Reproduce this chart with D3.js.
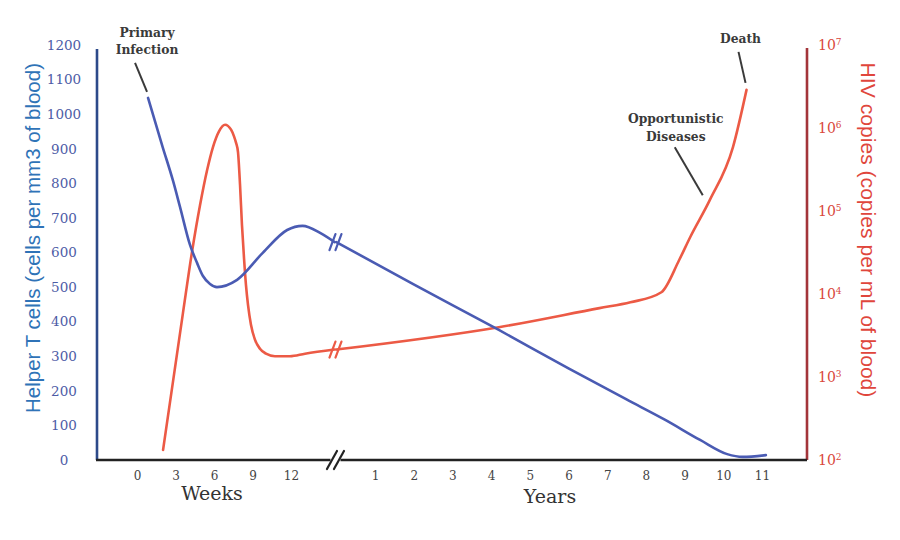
<!DOCTYPE html>
<html>
<head>
<meta charset="utf-8">
<script src="https://cdn.jsdelivr.net/npm/d3@7"></script>
<style>
  html, body { margin: 0; padding: 0; background: #ffffff; }
  svg { display: block; }
</style>
</head>
<body>
<svg id="chart" width="900" height="540"></svg>
<script>
// ---------------- DATA ----------------
const weekTicks = [0, 3, 6, 9, 12];
const yearTicks = [1, 2, 3, 4, 5, 6, 7, 8, 9, 10, 11];
const tcellTicks = [0, 100, 200, 300, 400, 500, 600, 700, 800, 900, 1000, 1100, 1200];
const hivExponents = [2, 3, 4, 5, 6, 7];

const breakWeek = 15.4;   // where the weeks segment ends
const breakYear = 0;      // where the years segment starts

// Helper T cells (cells per mm3) – weeks phase
const tcellWeeksX = [0.86, 2.0, 2.81, 3.35, 4.13, 4.68, 5.14, 5.69, 6.23, 7.8, 9.8, 11.7, 12.9, 14.3, 15.4];
const tcellWeeksY = [1047, 905, 807, 732, 622, 570, 532, 509, 500, 521, 599, 665, 677, 656, 630];
// Helper T cells – years phase
const tcellYearsX = [0, 2, 4.2, 6, 7.5, 8.5, 9.4, 10.1, 10.5, 11.1];
const tcellYearsY = [630, 508, 376, 265, 175, 116, 58, 17, 9, 14];

// HIV copies (copies per mL) – weeks phase
const hivWeeksX = [2.03, 3.58, 4.29, 4.91, 5.46, 5.92, 6.39, 6.86, 7.33, 7.56, 7.72, 7.87, 8.03, 8.18, 8.34, 8.49, 8.65, 8.88, 9.19, 9.58, 10.05, 10.75, 11.92, 13.09, 15.4];
const hivWeeksY = [132, 5890, 32400, 117000, 309000, 589000, 912000, 1096000, 955000, 794000, 661000, 513000, 204000, 67600, 26900, 12900, 7410, 4270, 2820, 2190, 1910, 1780, 1780, 1910, 2140];
// HIV copies – years phase
const hivYearsX = [0, 4.2, 6.8, 7.6, 8.4, 8.86, 9.15, 9.65, 10.25, 10.6];
const hivYearsY = [2140, 3980, 6760, 7940, 10500, 25700, 49000, 135000, 589000, 2880000];

const leftTitle = "Helper T cells (cells per mm3 of blood)";
const rightTitle = "HIV copies (copies per mL of blood)";
const weeksLabel = "Weeks";
const yearsLabel = "Years";

// ---------------- LAYOUT ----------------
const svg = d3.select("#chart");
const axisLeftX = 97, axisRightX = 807, axisBottomY = 460, axisTopY = 45;

const xWeeks = d3.scaleLinear().domain([0, 12]).range([137, 291]);
const xYears = d3.scaleLinear().domain([1, 11]).range([375, 762]);
const yT = d3.scaleLinear().domain([0, 1200]).range([axisBottomY, axisTopY]);
const yH = d3.scaleLog().domain([100, 1e7]).range([axisBottomY, axisTopY]);

const blue = "#4a5bb3";
const red = "#ec5a45";
const serif = "'DejaVu Serif', Georgia, serif";
const sans = "'Liberation Sans', Arial, sans-serif";

// Left axis
const gL = svg.append("g").attr("transform", `translate(${axisLeftX},0)`)
  .call(d3.axisLeft(yT).tickValues(tcellTicks).tickFormat(d3.format("d"))
    .tickSize(0).tickSizeOuter(0).tickPadding(33));
gL.select(".domain").attr("stroke", "#2d4a8a").attr("stroke-width", 2.6)
  .attr("d", `M0,${yT(1200) + 4}V${axisBottomY}`);
gL.selectAll(".tick text")
  .attr("text-anchor", "middle")
  .attr("font-family", serif).attr("font-size", 13.5).attr("fill", "#4d5ca6");

// Right axis
const gR = svg.append("g").attr("transform", `translate(${axisRightX},0)`);
gR.append("line").attr("x1", 0).attr("x2", 0)
  .attr("y1", yH(1e7) + 3).attr("y2", axisBottomY)
  .attr("stroke", "#a3353a").attr("stroke-width", 2.6);
const rt = gR.selectAll("text.rt").data(hivExponents).enter().append("text")
  .attr("class", "rt")
  .attr("x", 11).attr("y", e => yH(Math.pow(10, e))).attr("dy", "0.35em")
  .attr("font-family", serif).attr("font-size", 14).attr("fill", "#d9483c");
rt.append("tspan").text("10");
rt.append("tspan").attr("dy", "-0.55em").attr("font-size", 9).text(e => e);

// Bottom axis line
svg.append("line").attr("x1", axisLeftX - 1).attr("x2", axisRightX)
  .attr("y1", axisBottomY).attr("y2", axisBottomY)
  .attr("stroke", "#222").attr("stroke-width", 2.6);

const gW = svg.append("g").attr("transform", `translate(0,${axisBottomY})`)
  .call(d3.axisBottom(xWeeks).tickValues(weekTicks).tickSize(0).tickPadding(11));
gW.select(".domain").remove();
const gY = svg.append("g").attr("transform", `translate(0,${axisBottomY})`)
  .call(d3.axisBottom(xYears).tickValues(yearTicks).tickSize(0).tickPadding(11));
gY.select(".domain").remove();
[gW, gY].forEach(g => g.selectAll(".tick text")
  .attr("font-family", serif).attr("font-size", 12).attr("fill", "#444"));

// Axis-break mark on x axis
const bx = (xWeeks(breakWeek) + xYears(breakYear)) / 2;
function breakMark(cx, cy, color, h, gap, w) {
  [-gap, gap].forEach(o => {
    svg.append("line")
      .attr("x1", cx + o - w).attr("y1", cy + h)
      .attr("x2", cx + o + w).attr("y2", cy - h)
      .attr("stroke", color).attr("stroke-width", 2.2).attr("stroke-linecap", "round");
  });
}
svg.append("rect").attr("x", bx - 5).attr("y", axisBottomY - 2).attr("width", 10).attr("height", 4).attr("fill", "#fff");
breakMark(bx, axisBottomY, "#222", 9, 3.5, 5);

// X labels
svg.append("text").attr("x", 212).attr("y", 500).attr("text-anchor", "middle")
  .attr("font-family", serif).attr("font-size", 19).attr("fill", "#333").text(weeksLabel);
svg.append("text").attr("x", 550).attr("y", 503).attr("text-anchor", "middle")
  .attr("font-family", serif).attr("font-size", 19).attr("fill", "#333").text(yearsLabel);

// Y titles (fit to target length)
function fittedTitle(txt, x, y, rot, target, color) {
  const t = svg.append("text").attr("font-family", sans).attr("font-size", 18)
    .attr("fill", color).attr("text-anchor", "middle")
    .attr("transform", `translate(${x},${y}) rotate(${rot})`).attr("dy", "0.35em").text(txt);
  const len = t.node().getComputedTextLength();
  t.attr("font-size", 18 * target / len);
}
fittedTitle(leftTitle, 33, 238, -90, 350, "#2f73b7");
fittedTitle(rightTitle, 868, 230, 90, 335, "#e0463c");

// ---------------- LINES ----------------
const lineGen = (xs, ys, sx, sy) => d3.line()
  .x((d, i) => sx(xs[i])).y((d, i) => sy(ys[i]))
  .curve(d3.curveMonotoneX)(xs);

function drawLine(xs, ys, sx, sy, color) {
  svg.append("path").attr("d", lineGen(xs, ys, sx, sy))
    .attr("fill", "none").attr("stroke", color).attr("stroke-width", 2.6)
    .attr("stroke-linecap", "round").attr("stroke-linejoin", "round");
}
drawLine(hivWeeksX, hivWeeksY, xWeeks, yH, red);
drawLine(hivYearsX, hivYearsY, xYears, yH, red);
drawLine(tcellWeeksX, tcellWeeksY, xWeeks, yT, blue);
drawLine(tcellYearsX, tcellYearsY, xYears, yT, blue);

// break marks on the lines
breakMark(bx, yT(tcellYearsY[0]), blue, 8, 3, 3);
breakMark(bx, yH(hivYearsY[0]), red, 8, 3, 3);

// ---------------- ANNOTATIONS ----------------
function annot(ax, ay, lines, lx1, ly1, lx2, ly2, tx, ty, lh) {
  svg.append("line").attr("x1", ax + lx1).attr("y1", ay + ly1)
    .attr("x2", ax + lx2).attr("y2", ay + ly2)
    .attr("stroke", "#3a3a3a").attr("stroke-width", 2);
  lines.forEach((s, i) => {
    svg.append("text").attr("x", ax + tx).attr("y", ay + ty + i * lh).attr("dy", "0.35em")
      .attr("text-anchor", "middle").attr("font-family", serif).attr("font-weight", "bold")
      .attr("font-size", 12.3).attr("fill", "#3a3a3a").text(s);
  });
}
annot(xWeeks(tcellWeeksX[0]), yT(tcellWeeksY[0]), ["Primary", "Infection"], -13, -35, -1, -6, -1, -65, 17);
const lastI = hivYearsX.length - 1;
annot(xYears(hivYearsX[lastI]), yH(hivYearsY[lastI]), ["Death"], -8, -38, -1, -7, -6, -51, 17);
annot(xYears(hivYearsX[7]), yH(hivYearsY[7]), ["Opportunistic", "Diseases"], -35, -53, -7, -5, -34, -81, 18);
</script>
</body>
</html>
